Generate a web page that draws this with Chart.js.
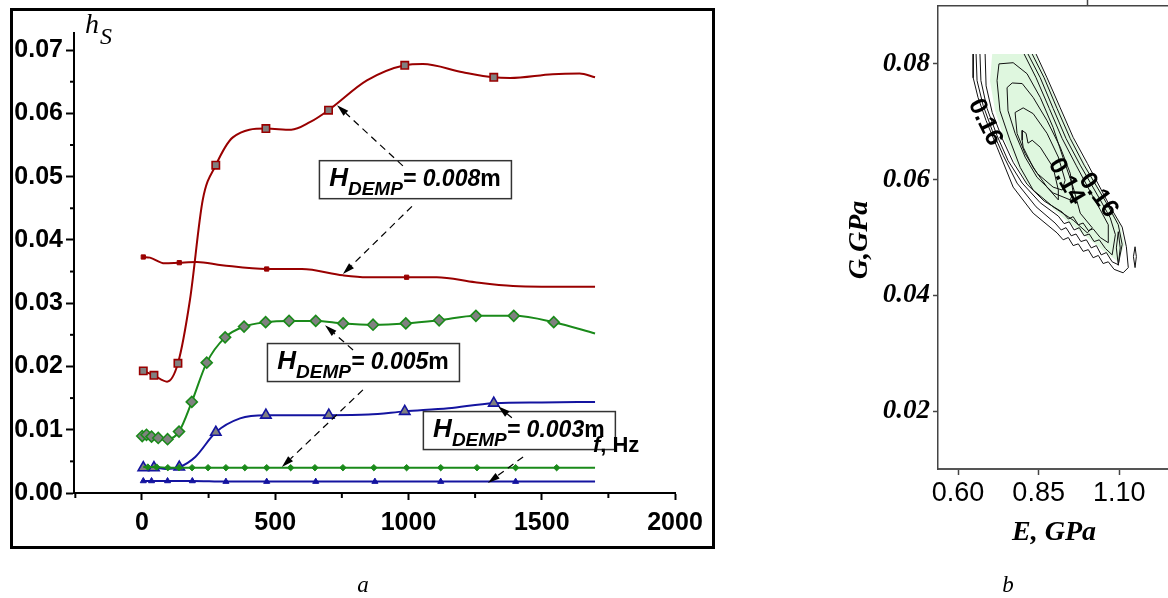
<!DOCTYPE html>
<html>
<head>
<meta charset="utf-8">
<script src="https://cdn.jsdelivr.net/npm/chart.js@4.4.1/dist/chart.umd.min.js"></script>
<style>
  html, body { margin: 0; padding: 0; background: #fff; overflow: hidden; width: 1168px; height: 598px; }
  #left { position: absolute; left: 0; top: 0; }
  #right { position: absolute; left: 830px; top: 0; }
</style>
</head>
<body>
<canvas id="left" width="720" height="598" style="width:720px;height:598px"></canvas>
<canvas id="right" width="410" height="598" style="width:410px;height:598px"></canvas>
<script>
// ---- panel a: h_S vs f, Hz ----
const red8aF = [5, 45, 94, 135, 180, 228, 277, 341, 465, 560, 630, 700, 844, 986, 1054, 1204, 1320, 1381, 1541, 1642, 1700];
const red8aH = [0.0193, 0.0186, 0.0176, 0.0205, 0.0305, 0.0463, 0.0518, 0.0562, 0.0576, 0.0574, 0.0586, 0.0605, 0.0652, 0.0676, 0.0678, 0.0665, 0.0657, 0.0656, 0.0662, 0.0663, 0.0657];
const red8aMarks = [5, 45, 135, 277, 465, 700, 986, 1320];

const red8bF = [5, 30, 85, 140, 206, 300, 468, 600, 754, 844, 993, 1106, 1250, 1392, 1500, 1700];
const red8bH = [0.0373, 0.0372, 0.0363, 0.0364, 0.0365, 0.0360, 0.0354, 0.0354, 0.0344, 0.0341, 0.0341, 0.0341, 0.0333, 0.0327, 0.0326, 0.0326];
const red8bMarks = [5, 140, 468, 993];

const grn5aF = [1, 17, 36, 61, 96, 139, 187, 243, 312, 383, 464, 552, 652, 755, 867, 990, 1115, 1253, 1395, 1545, 1700];
const grn5aH = [0.0090, 0.0092, 0.0089, 0.0087, 0.0085, 0.0097, 0.0144, 0.0206, 0.0246, 0.0263, 0.0270, 0.0272, 0.0272, 0.0268, 0.0266, 0.0268, 0.0273, 0.0280, 0.0280, 0.0270, 0.0252];
const grn5aMarks = [1, 17, 36, 61, 96, 139, 187, 243, 312, 383, 464, 552, 652, 755, 867, 990, 1115, 1253, 1395, 1545];

const grn5bF = [5, 22, 55, 97, 139, 188, 248, 315, 386, 468, 558, 649, 754, 870, 993, 1121, 1257, 1402, 1556, 1700];
const grn5bH = [0.0041, 0.0041, 0.0041, 0.0040, 0.0040, 0.0040, 0.0040, 0.0040, 0.0040, 0.0040, 0.0040, 0.0040, 0.0040, 0.0040, 0.0040, 0.0040, 0.0040, 0.0040, 0.0040, 0.0040];
const grn5bMarks = [22, 55, 97, 139, 188, 248, 315, 386, 468, 558, 649, 754, 870, 993, 1121, 1257, 1402, 1556];

const blu3aF = [5, 45, 90, 140, 200, 277, 368, 465, 600, 701, 850, 986, 1150, 1320, 1500, 1700];
const blu3aH = [0.0040, 0.0040, 0.0038, 0.0041, 0.0057, 0.0096, 0.0118, 0.0123, 0.0123, 0.0123, 0.0124, 0.0129, 0.0134, 0.0142, 0.0143, 0.0144];
const blu3aMarks = [5, 45, 140, 277, 465, 701, 986, 1320];

const blu3bF = [5, 36, 96, 189, 315, 468, 652, 874, 1121, 1402, 1700];
const blu3bH = [0.0019, 0.0019, 0.0019, 0.0019, 0.0018, 0.0018, 0.0018, 0.0018, 0.0018, 0.0018, 0.0018];
const blu3bMarks = [5, 36, 96, 189, 315, 468, 652, 874, 1121, 1402];

const hTicks = [0, 0.01, 0.02, 0.03, 0.04, 0.05, 0.06, 0.07];
const hMinor = [0.005, 0.015, 0.025, 0.035, 0.045, 0.055, 0.065];
const fTicks = [0, 500, 1000, 1500, 2000];
const fMinor = [-250, 250, 750, 1250, 1750];

// annotation boxes (top-left corner in data units) and their arrows
const boxes = [
  { f: 664, h: 0.0526, text: '0.008' },
  { f: 469, h: 0.0237, text: '0.005' },
  { f: 1054, h: 0.01295, text: '0.003' }
];
const arrows = [
  [979, 0.0517, 732, 0.0613],
  [1013, 0.0453, 754, 0.0346],
  [792, 0.0226, 687, 0.0265],
  [829, 0.0163, 525, 0.0041],
  [1388, 0.0119, 1336, 0.0137],
  [1430, 0.0057, 1298, 0.0016]
];

// ---- panel b: contour map over E, G ----
const ring1 = [[0.647,0.0817],[0.647,0.0776],[0.662,0.0742],[0.687,0.0702],[0.721,0.0656],[0.771,0.0587],[0.833,0.0542],[0.907,0.0508],
  [0.926,0.0496],[0.942,0.0500],[0.957,0.0486],[0.973,0.0489],[0.988,0.0476],[1.004,0.0479],[1.019,0.0465],[1.035,0.0469],[1.050,0.0455],[1.066,0.0458],[1.084,0.0445],[1.112,0.0439],
  [1.128,0.0448],[1.122,0.0484],[1.109,0.0518],[1.072,0.0553],[1.001,0.0628],[0.957,0.0673],[0.917,0.0724],[0.876,0.0776],[0.842,0.0817]];
const ring2 = [[0.656,0.0817],[0.659,0.0771],[0.678,0.0728],[0.706,0.0685],[0.740,0.0642],[0.783,0.0594],[0.842,0.0553],[0.901,0.0525],
  [0.920,0.0513],[0.935,0.0517],[0.951,0.0503],[0.966,0.0506],[0.981,0.0493],[0.998,0.0496],[1.013,0.0482],[1.029,0.0486],[1.044,0.0470],[1.060,0.0474],[1.078,0.0458],[1.097,0.0453],
  [1.109,0.0488],[1.097,0.0522],[1.060,0.0560],[0.991,0.0625],[0.948,0.0671],[0.907,0.0723],[0.867,0.0776],[0.830,0.0817]];
const ring3 = [[0.668,0.0817],[0.671,0.0771],[0.690,0.0723],[0.721,0.0676],[0.755,0.0633],[0.799,0.0594],[0.855,0.0560],[0.911,0.0537],
  [0.929,0.0524],[0.945,0.0527],[0.960,0.0513],[0.976,0.0517],[0.991,0.0503],[1.007,0.0506],[1.022,0.0493],[1.038,0.0496],[1.057,0.0481],[1.078,0.0470],
  [1.088,0.0505],[1.072,0.0534],[1.041,0.0565],[0.979,0.0625],[0.935,0.0671],[0.895,0.0723],[0.855,0.0776],[0.817,0.0817]];
const ring4 = [[0.684,0.0817],[0.687,0.0762],[0.706,0.0716],[0.737,0.0671],[0.771,0.0630],[0.814,0.0592],[0.867,0.0563],[0.923,0.0544],
  [0.942,0.0532],[0.957,0.0536],[0.973,0.0522],[0.988,0.0525],[1.004,0.0512],[1.019,0.0515],[1.041,0.0500],[1.066,0.0491],
  [1.066,0.0522],[1.041,0.0548],[1.016,0.0573],[0.966,0.0625],[0.923,0.0671],[0.883,0.0723],[0.842,0.0776],[0.805,0.0817]];
const ring5 = [[0.727,0.0800],[0.721,0.0771],[0.730,0.0719],[0.761,0.0668],[0.793,0.0621],[0.833,0.0582],[0.895,0.0553],[0.957,0.0530],[1.001,0.0508],
  [1.016,0.0517],[0.979,0.0542],[0.957,0.0587],[0.925,0.0639],[0.895,0.0690],[0.855,0.0742],[0.814,0.0783],[0.771,0.0802]];
const ring6 = [[0.752,0.0759],[0.755,0.0719],[0.777,0.0680],[0.808,0.0639],[0.845,0.0604],[0.895,0.0577],[0.948,0.0565],
  [0.957,0.0577],[0.948,0.0611],[0.917,0.0656],[0.876,0.0702],[0.833,0.0742],[0.799,0.0766],[0.768,0.0767]];
const ring7 = [[0.777,0.0716],[0.783,0.0680],[0.808,0.0645],[0.845,0.0611],[0.895,0.0587],[0.923,0.0582],
  [0.932,0.0599],[0.911,0.0639],[0.876,0.0680],[0.833,0.0714],[0.802,0.0724]];
const ring8 = [[0.799,0.0685],[0.799,0.0668],[0.802,0.0656],[0.833,0.0621],[0.876,0.0587],[0.911,0.0565],
  [0.911,0.0582],[0.895,0.0621],[0.855,0.0656],[0.830,0.0668],[0.817,0.0663],[0.811,0.0680]];
const lobeA = [[1.097,0.0510],[1.103,0.0482],[1.097,0.0452],[1.091,0.0482]];
const lobeB = [[1.149,0.0484],[1.153,0.0467],[1.149,0.0448],[1.144,0.0467]];
const fillZone = [[0.706,0.0817],[0.699,0.0771],[0.715,0.0719],[0.743,0.0671],[0.777,0.0630],[0.817,0.0591],[0.873,0.0560],[0.935,0.0530],[0.994,0.0503],[1.047,0.0479],[1.097,0.0458],
  [1.116,0.0488],[1.103,0.0522],[1.066,0.0556],[0.998,0.0625],[0.954,0.0673],[0.914,0.0724],[0.873,0.0776],[0.839,0.0817]];
const contourLabels = [
  { text: '0.16', e: 0.684, g: 0.0699, deg: 64 },
  { text: '0.14', e: 0.935, g: 0.0597, deg: 60 },
  { text: '0.16', e: 1.035, g: 0.0573, deg: 53 }
];
const gTicks = [0.02, 0.04, 0.06, 0.08];
const eTicks = [0.60, 0.85, 1.10, 1.35];
const eTopTicks = [1.00];

const SANS = '"Liberation Sans", Arial, sans-serif';
const SERIF = '"Liberation Serif", "Times New Roman", serif';

function curve(f, h, marks, color, style, radius, grey) {
  return {
    data: f.map((x, i) => ({ x: x, y: h[i] })),
    borderColor: color,
    borderWidth: 2,
    cubicInterpolationMode: 'monotone',
    pointStyle: style,
    pointRadius: ctx => marks.includes(f[ctx.dataIndex]) ? radius : 0,
    pointHoverRadius: 0,
    pointBackgroundColor: grey ? '#808080' : color,
    pointBorderColor: color,
    pointBorderWidth: grey ? 1.6 : 1
  };
}

function drawArrow(c, x1, y1, x2, y2) {
  const a = Math.atan2(y2 - y1, x2 - x1), L = 12, W = 3.5;
  const bx = x2 - L * Math.cos(a), by = y2 - L * Math.sin(a);
  c.save();
  c.strokeStyle = '#000';
  c.lineWidth = 1.2;
  c.setLineDash([7, 5]);
  c.beginPath(); c.moveTo(x1, y1); c.lineTo(bx, by); c.stroke();
  c.setLineDash([]);
  c.fillStyle = '#000';
  c.beginPath();
  c.moveTo(x2, y2);
  c.lineTo(bx + W * Math.sin(a), by - W * Math.cos(a));
  c.lineTo(bx - W * Math.sin(a), by + W * Math.cos(a));
  c.closePath(); c.fill();
  c.restore();
}

function drawBox(c, x, y, text) {
  const parts = [
    ['italic bold 26px ' + SANS, 'H', 0],
    ['italic bold 19px ' + SANS, 'DEMP', 9],
    ['italic bold 23px ' + SANS, '= ' + text, 0],
    ['bold 23px ' + SANS, 'm', 0]
  ];
  let w = 0;
  parts.forEach(p => { c.font = p[0]; w += c.measureText(p[1]).width; });
  c.save();
  c.fillStyle = '#fff';
  c.fillRect(x, y, 192, 38);
  c.strokeStyle = '#333';
  c.lineWidth = 1.5;
  c.strokeRect(x + 0.5, y + 0.5, 192, 38);
  c.fillStyle = '#000';
  c.textBaseline = 'alphabetic';
  let tx = x + (192 - w) / 2;
  parts.forEach(p => { c.font = p[0]; c.fillText(p[1], tx, y + 26 + p[2]); tx += c.measureText(p[1]).width; });
  c.restore();
}

const paperA = {
  id: 'paperA',
  beforeDraw(chart) {
    const c = chart.ctx;
    c.save();
    c.strokeStyle = '#000';
    c.lineWidth = 3;
    c.strokeRect(11.5, 9.5, 702, 538);
    c.restore();
  },
  afterDraw(chart) {
    const c = chart.ctx, xs = chart.scales.x, ys = chart.scales.y, area = chart.chartArea;
    c.save();
    // minor ticks
    c.strokeStyle = '#000';
    c.lineWidth = 2;
    hMinor.forEach(v => { const y = ys.getPixelForValue(v); c.beginPath(); c.moveTo(area.left - 4, y); c.lineTo(area.left, y); c.stroke(); });
    fMinor.forEach(v => { const x = xs.getPixelForValue(v); c.beginPath(); c.moveTo(x, area.bottom); c.lineTo(x, area.bottom + 5); c.stroke(); });
    // boxes and arrows
    boxes.forEach(b => drawBox(c, xs.getPixelForValue(b.f), ys.getPixelForValue(b.h), b.text));
    arrows.forEach(a => drawArrow(c, xs.getPixelForValue(a[0]), ys.getPixelForValue(a[1]), xs.getPixelForValue(a[2]), ys.getPixelForValue(a[3])));
    // axis titles
    c.fillStyle = '#000';
    c.textBaseline = 'alphabetic';
    c.textAlign = 'left';
    c.font = 'italic 28px ' + SERIF;
    c.fillText('h', area.left + 11, area.top);
    c.font = 'italic 24px ' + SERIF;
    c.fillText('S', area.left + 26, area.top + 11);
    const fx = xs.getPixelForValue(1692), fy = ys.getPixelForValue(0.0065);
    c.font = 'italic bold 22px ' + SANS;
    c.fillText('f', fx, fy);
    const fw = c.measureText('f').width;
    c.font = 'bold 22px ' + SANS;
    c.fillText(', Hz', fx + fw, fy);
    // panel caption
    c.font = 'italic 23px ' + SERIF;
    c.textAlign = 'center';
    c.fillText('a', 363, 592);
    c.restore();
  }
};

new Chart(document.getElementById('left'), {
  type: 'line',
  data: {
    datasets: [
      curve(red8aF, red8aH, red8aMarks, '#990000', 'rect', 5.2, true),
      curve(red8bF, red8bH, red8bMarks, '#990000', 'rect', 3, false),
      curve(grn5aF, grn5aH, grn5aMarks, '#1a8a1a', 'rectRot', 5.5, true),
      curve(grn5bF, grn5bH, grn5bMarks, '#1a8a1a', 'rectRot', 3.2, false),
      curve(blu3aF, blu3aH, blu3aMarks, '#1414a0', 'triangle', 6, true),
      curve(blu3bF, blu3bH, blu3bMarks, '#1414a0', 'triangle', 3.5, false)
    ]
  },
  options: {
    responsive: false,
    animation: false,
    layout: { padding: { left: 0, top: 33, right: 45, bottom: 0 } },
    plugins: { legend: { display: false }, tooltip: { enabled: false } },
    scales: {
      x: {
        type: 'linear', min: -255, max: 2000,
        afterFit: s => { s.height = 105; },
        afterBuildTicks: s => { s.ticks = fTicks.map(v => ({ value: v })); },
        ticks: { color: '#000', font: { family: SANS, size: 25, weight: 'bold' }, padding: 8, maxRotation: 0, autoSkip: false, callback: v => String(v) },
        grid: { drawOnChartArea: false, color: '#000', tickLength: 7, tickWidth: 2 },
        border: { color: '#000', width: 2 }
      },
      y: {
        type: 'linear', min: 0, max: 0.0727,
        afterFit: s => { s.width = 74; },
        afterBuildTicks: s => { s.ticks = hTicks.map(v => ({ value: v })); },
        ticks: { color: '#000', font: { family: SANS, size: 25, weight: 'bold' }, padding: 3, autoSkip: false, callback: v => v.toFixed(2) },
        grid: { drawOnChartArea: false, color: '#000', tickLength: 8, tickWidth: 2 },
        border: { color: '#000', width: 2 }
      }
    }
  },
  plugins: [paperA]
});

// ---- panel b ----
const paperB = {
  id: 'paperB',
  afterDraw(chart) {
    const c = chart.ctx, xs = chart.scales.x, ys = chart.scales.y;
    c.save();
    c.fillStyle = '#000';
    c.textAlign = 'center';
    c.textBaseline = 'middle';
    c.font = 'bold 25px ' + SANS;
    contourLabels.forEach(l => {
      c.save();
      c.translate(xs.getPixelForValue(l.e), ys.getPixelForValue(l.g));
      c.rotate(l.deg * Math.PI / 180);
      c.fillText(l.text, 0, 0);
      c.restore();
    });
    c.font = 'italic bold 28px ' + SERIF;
    c.fillText('E, GPa', 224, 533);
    c.save();
    c.translate(30, 240);
    c.rotate(-Math.PI / 2);
    c.fillText('G,GPa', 0, 0);
    c.restore();
    c.font = 'italic 23px ' + SERIF;
    c.textBaseline = 'alphabetic';
    c.fillText('b', 178, 592);
    c.restore();
  }
};

function ring(r, closed) {
  const pts = closed ? r.concat([r[0]]) : r;
  return {
    data: pts.map(p => ({ x: p[0], y: p[1] })),
    showLine: true, borderColor: '#111', borderWidth: 1, pointRadius: 0, pointHoverRadius: 0, tension: 0, fill: false
  };
}

new Chart(document.getElementById('right'), {
  type: 'scatter',
  data: {
    datasets: [
      ring(ring1, false), ring(ring2, false), ring(ring3, false), ring(ring4, false),
      ring(ring5, true), ring(ring6, true), ring(ring7, true), ring(ring8, true),
      ring(lobeA, true), ring(lobeB, true),
      {
        data: fillZone.concat([fillZone[0]]).map(p => ({ x: p[0], y: p[1] })),
        showLine: true, borderWidth: 0, borderColor: 'rgba(0,0,0,0)', pointRadius: 0, pointHoverRadius: 0,
        fill: 'shape', backgroundColor: '#dff7df'
      }
    ]
  },
  options: {
    responsive: false,
    animation: false,
    layout: { padding: { left: 0, top: 0, right: 24, bottom: 0 } },
    plugins: { legend: { display: false }, tooltip: { enabled: false } },
    scales: {
      x: {
        type: 'linear', min: 0.5379, max: 1.40, position: 'bottom',
        afterFit: s => { s.height = 129; s.paddingLeft = 0; s.paddingRight = 0; },
        afterBuildTicks: s => { s.ticks = eTicks.map(v => ({ value: v })); },
        ticks: { color: '#000', font: { family: SANS, size: 27 }, padding: 2, maxRotation: 0, autoSkip: false, callback: v => v.toFixed(2) },
        grid: { drawOnChartArea: false, color: '#444', tickLength: 6, tickWidth: 1.5 },
        border: { color: '#555', width: 2 }
      },
      x2: {
        type: 'linear', min: 0.5379, max: 1.40, position: 'top',
        afterFit: s => { s.height = 6; s.paddingLeft = 0; s.paddingRight = 0; },
        afterBuildTicks: s => { s.ticks = eTopTicks.map(v => ({ value: v })); },
        ticks: { display: false },
        grid: { drawOnChartArea: false, color: '#444', tickLength: 6, tickWidth: 1.5 },
        border: { color: '#444', width: 1.5 }
      },
      y: {
        type: 'linear', min: 0.01, max: 0.09,
        afterFit: s => { s.width = 108; s.paddingTop = 0; s.paddingBottom = 0; },
        afterBuildTicks: s => { s.ticks = gTicks.map(v => ({ value: v })); },
        ticks: { color: '#000', font: { family: SERIF, size: 27, weight: 'bold', style: 'italic' }, padding: 3, autoSkip: false, callback: v => v.toFixed(2) },
        grid: { drawOnChartArea: false, color: '#444', tickLength: 5, tickWidth: 1.5 },
        border: { color: '#444', width: 1.5 }
      }
    }
  },
  plugins: [paperB]
});
</script>
</body>
</html>
